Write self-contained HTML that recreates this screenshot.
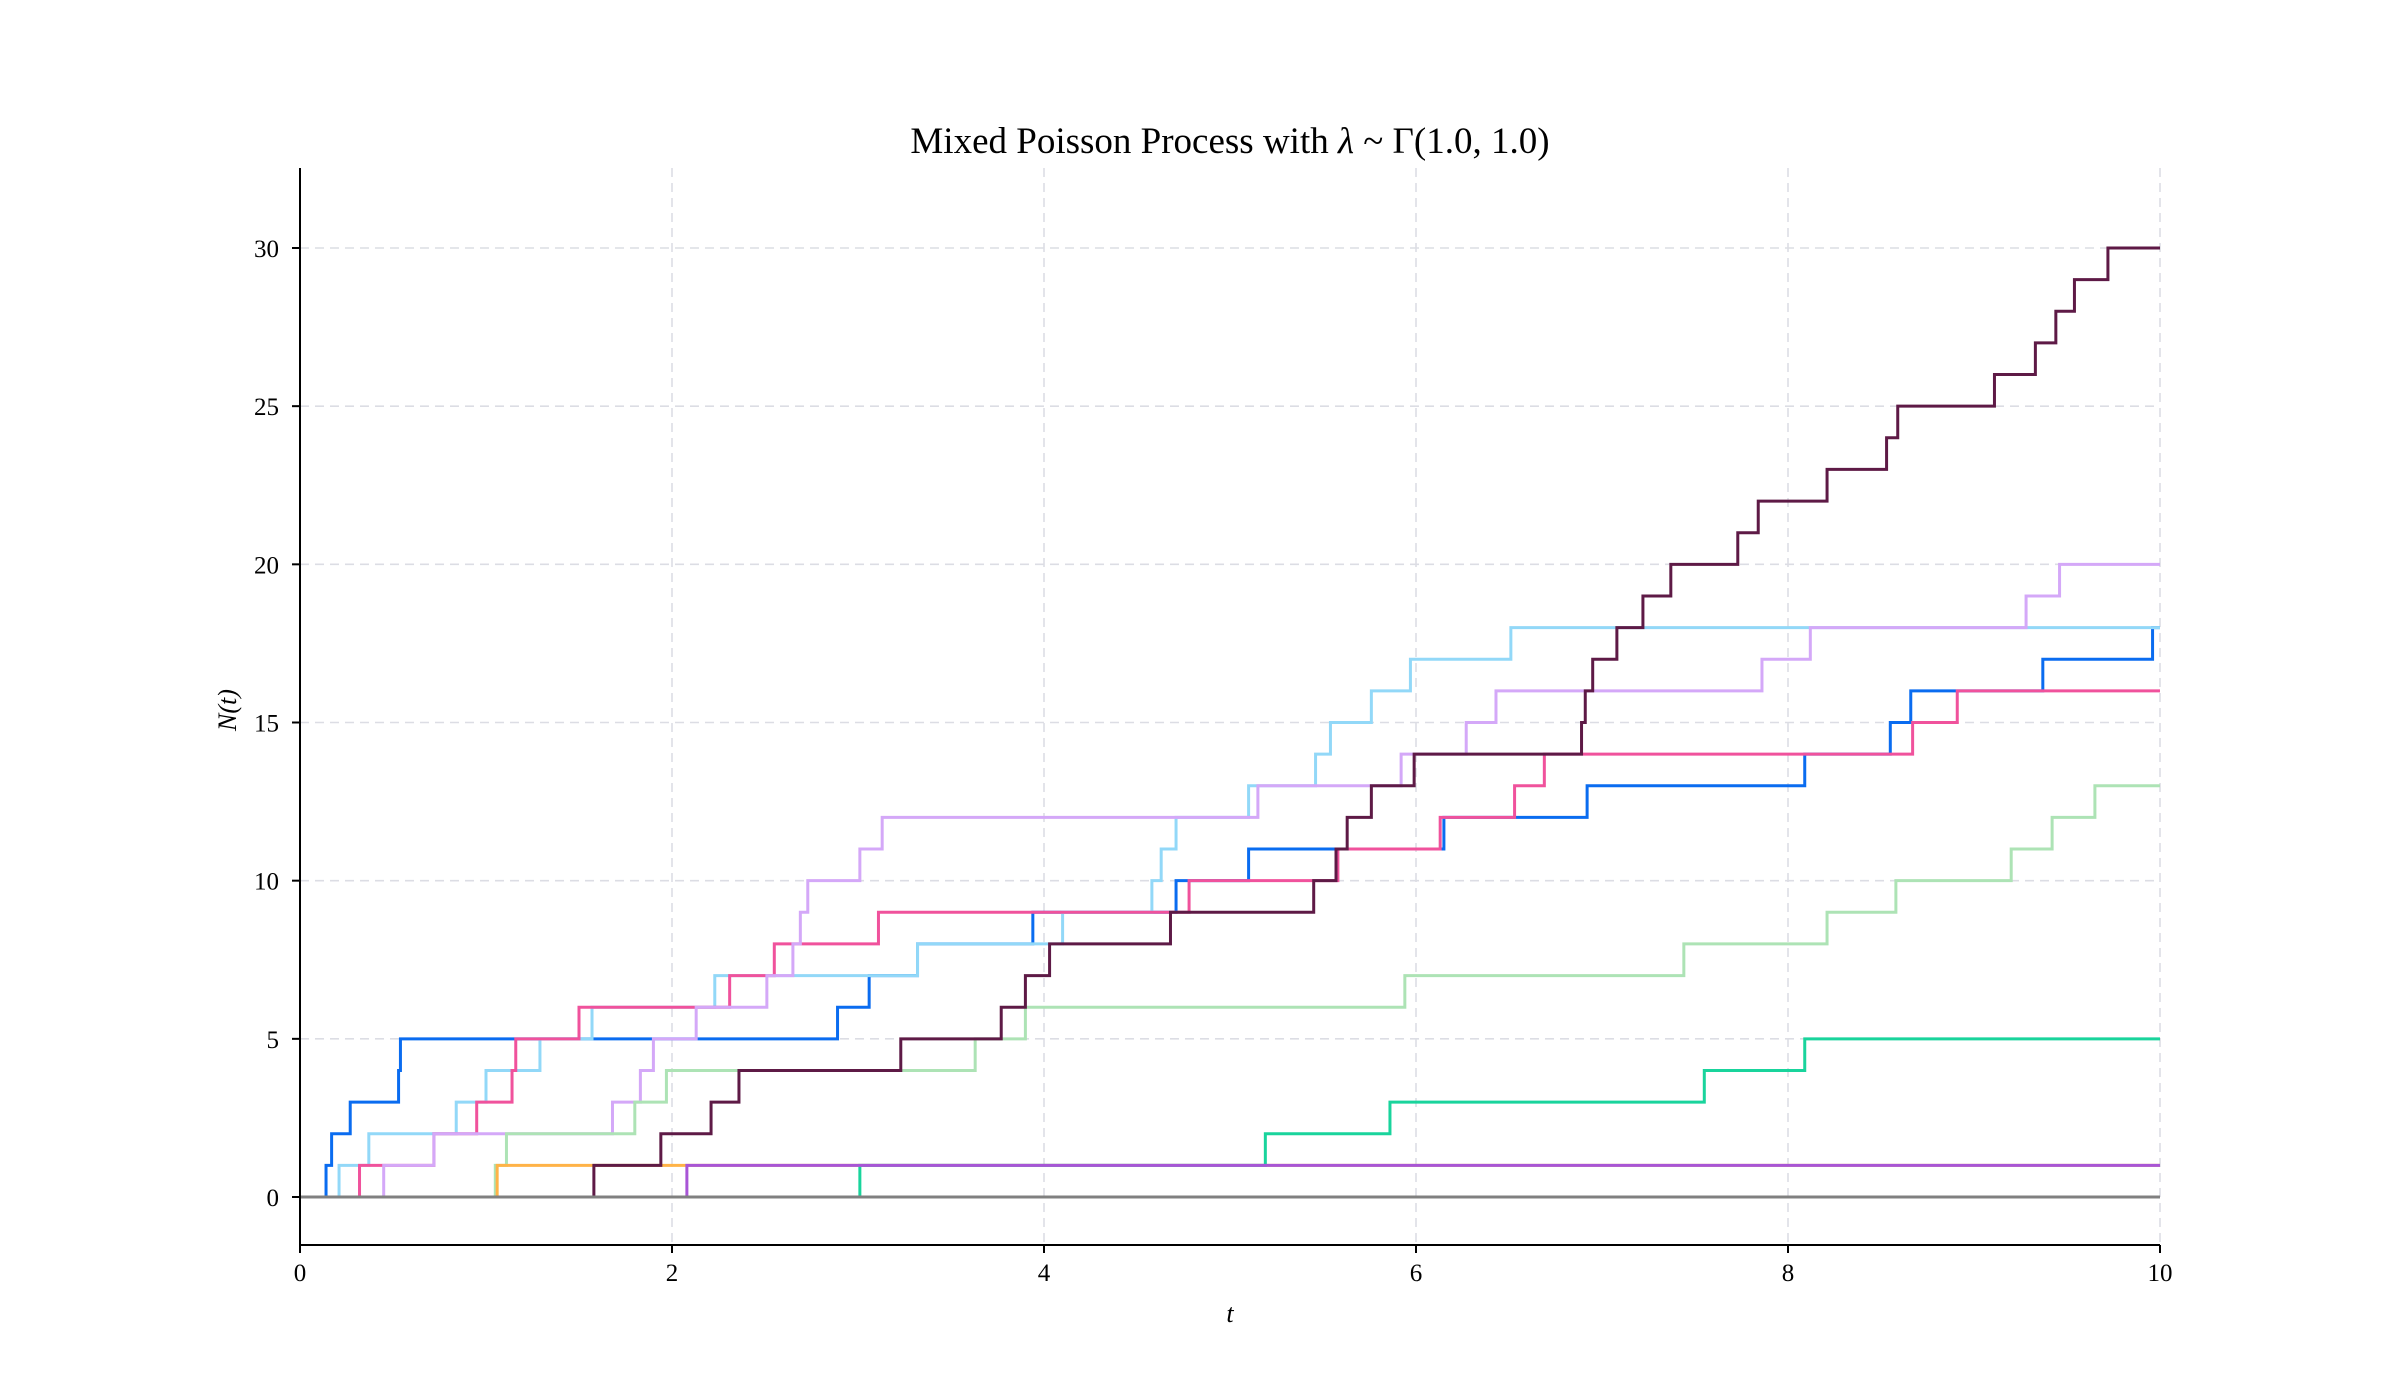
<!DOCTYPE html>
<html><head><meta charset="utf-8"><style>
html,body{margin:0;padding:0;background:#fff;}
svg{display:block;font-family:"Liberation Serif",serif;}
</style></head><body>
<svg id="chart" width="2400" height="1400" viewBox="0 0 2400 1400" xmlns="http://www.w3.org/2000/svg">
<rect width="2400" height="1400" fill="#fff"/>
<text x="1230" y="153" text-anchor="middle" font-size="37">Mixed Poisson Process with <tspan font-style="italic">λ</tspan> ~ Γ(1.0, 1.0)</text>
<g id="grid"></g>
<g id="series"></g>
<g id="axes"></g>
<text x="1230" y="1322" text-anchor="middle" font-size="26" font-style="italic">t</text>
<text transform="translate(236,710) rotate(-90)" text-anchor="middle" font-size="26" font-style="italic">N(t)</text>
</svg>
<script>
const xTicks = [0, 2, 4, 6, 8, 10];
const yTicks = [0, 5, 10, 15, 20, 25, 30];
const seriesNames = ["blue","light-blue","pink","lavender","light-green","orange","maroon","teal","purple","gray"];
const seriesColors = ["#0a6cf0","#92d8f8","#f0529c","#d4a8f8","#ade3b5","#ffb347","#5e1a46","#19d49c","#a855d6","#808080"];
const jumpsBlue = [0.14,0.17,0.27,0.53,0.54,2.89,3.06,3.32,3.94,4.71,5.10,6.15,6.92,8.09,8.55,8.66,9.37,9.96];
const jumpsLightBlue = [0.21,0.37,0.84,1.00,1.29,1.57,2.23,3.32,4.10,4.58,4.63,4.71,5.10,5.46,5.54,5.76,5.97,6.51];
const jumpsPink = [0.32,0.72,0.95,1.14,1.16,1.50,2.31,2.55,3.11,4.78,5.58,6.13,6.53,6.69,8.67,8.91];
const jumpsLavender = [0.45,0.72,1.68,1.83,1.90,2.13,2.51,2.65,2.69,2.73,3.01,3.13,5.15,5.92,6.27,6.43,7.86,8.12,9.28,9.46];
const jumpsGreen = [1.05,1.11,1.80,1.97,3.63,3.90,5.94,7.44,8.21,8.58,9.20,9.42,9.65];
const jumpsOrange = [1.06];
const jumpsMaroon = [1.58,1.94,2.21,2.36,3.23,3.77,3.90,4.03,4.68,5.45,5.57,5.63,5.76,5.99,6.89,6.91,6.95,7.08,7.22,7.37,7.73,7.84,8.21,8.53,8.59,9.11,9.33,9.44,9.54,9.72];
const jumpsTeal = [3.01,5.19,5.86,7.55,8.09];
const jumpsPurple = [2.08];
const jumpsGray = [];
const allJumps = [jumpsBlue,jumpsLightBlue,jumpsPink,jumpsLavender,jumpsGreen,jumpsOrange,jumpsMaroon,jumpsTeal,jumpsPurple,jumpsGray];
const tMax = 10;

const X0=300, X1=2160, Y0=1197, Y30=248;
const xs = t => X0 + (X1-X0)*t/10;
const ys = n => Y0 + (Y30-Y0)*n/30;
const NS="http://www.w3.org/2000/svg";
const grid=document.getElementById('grid'), axes=document.getElementById('axes'), sg=document.getElementById('series');
const TOP=168, BOT=1245;
function mk(tag, attrs, parent){const e=document.createElementNS(NS,tag);for(const k in attrs)e.setAttribute(k,attrs[k]);parent.appendChild(e);return e;}
xTicks.forEach(v=>{
  const g=mk('line',{x1:xs(v),x2:xs(v),y1:TOP,y2:BOT,stroke:'#dcdde4','stroke-width':1.6,'stroke-dasharray':'9,6'},grid);
  
  
  const tk=mk('line',{x1:xs(v),x2:xs(v),y1:BOT,y2:BOT+8,stroke:'#000','stroke-width':2},axes);
  
  
  const lb=mk('text',{x:xs(v),y:BOT+36,'text-anchor':'middle','font-size':25},axes);
  lb.textContent=v;
  
  
});
yTicks.forEach(v=>{
  const g=mk('line',{x1:X0,x2:X1,y1:ys(v),y2:ys(v),stroke:'#dcdde4','stroke-width':1.6,'stroke-dasharray':'9,6'},grid);
  
  
  const tk=mk('line',{x1:X0-8,x2:X0,y1:ys(v),y2:ys(v),stroke:'#000','stroke-width':2},axes);
  
  
  const lb=mk('text',{x:X0-21,y:ys(v)+9,'text-anchor':'end','font-size':25},axes);
  lb.textContent=v;
  
  
});
const ls=mk('line',{x1:X0,x2:X0,y1:TOP,y2:BOT,stroke:'#000','stroke-width':2},axes);


const bs=mk('line',{x1:X0,x2:X1,y1:BOT,y2:BOT,stroke:'#000','stroke-width':2},axes);


allJumps.forEach((jumps,i)=>{
  let d='M'+xs(0)+' '+ys(0);
  let n=0;
  jumps.forEach(t=>{d+=' H'+xs(t); n+=1; d+=' V'+ys(n);});
  d+=' H'+xs(tMax);
  const p=mk('path',{d:d,fill:'none',stroke:seriesColors[i],'stroke-width':3,'stroke-linejoin':'miter'},sg);
  
  
});
</script>
</body></html>
